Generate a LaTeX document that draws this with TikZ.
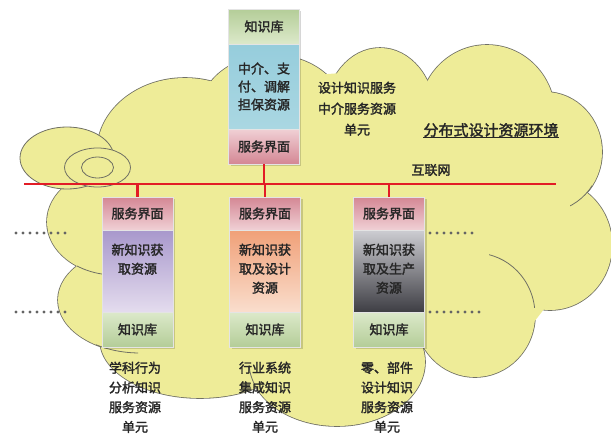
\documentclass[tikz,border=0pt]{standalone}
\usepackage{fontspec}
\setmainfont{Noto Sans CJK SC}[AutoFakeBold=2]
\usetikzlibrary{calc}
\definecolor{cloudfill}{RGB}{238,236,152}
\definecolor{cloudline}{RGB}{112,112,100}
\definecolor{netred}{RGB}{226,28,38}
\definecolor{txtc}{RGB}{38,38,38}
\definecolor{pinkA}{RGB}{212,135,148}
\definecolor{pinkB}{RGB}{240,208,213}
\definecolor{greenA}{RGB}{220,233,202}
\definecolor{greenB}{RGB}{180,205,152}
\definecolor{blueA}{RGB}{150,205,220}
\definecolor{blueM}{RGB}{198,230,236}
\definecolor{blueB}{RGB}{170,215,226}
\definecolor{purpA}{RGB}{168,152,204}
\definecolor{purpB}{RGB}{228,220,238}
\definecolor{orA}{RGB}{240,160,120}
\definecolor{orB}{RGB}{250,222,205}
\definecolor{grA}{RGB}{205,205,210}
\definecolor{grM}{RGB}{140,140,146}
\definecolor{grB}{RGB}{62,62,68}
\definecolor{dotc}{RGB}{100,100,100}
\definecolor{edgec}{RGB}{228,228,228}

\newcommand\cloudbumps[1]{%
  \foreach \cx/\cy/\rx/\ry in {185/152/88/74, 272/112/72/57, 380/115/55/67,
     487/115/68/70, 545/152/57/60, 550/245/62/65, 475/315/60/62,
     337/362/88/64, 200/340/100/58, 140/300/82/53, 115/222/68/53}
    {\path[#1] (\cx,\cy) ellipse [x radius=\rx, y radius=\ry];}%
}

\begin{document}
\begin{tikzpicture}[x=1pt,y=-1pt,
  txt/.style={font=\fontsize{13}{19}\selectfont\bfseries, text=txtc, align=center, inner sep=0pt},
  sect/.style={rectangle, inner sep=0pt, minimum width=71pt, draw=edgec, line width=0.5pt,
     font=\fontsize{13}{18}\selectfont\bfseries, text=txtc, align=center},
  svc/.style={sect, minimum height=33pt, top color=pinkA, bottom color=pinkB},
  svctop/.style={sect, minimum height=35pt, top color=pinkB, bottom color=pinkA},
  know/.style={sect, minimum height=35pt, top color=greenA, bottom color=greenB},
  knowtop/.style={sect, minimum height=35pt, top color=greenB, bottom color=greenA},
  bluesec/.style={sect, minimum height=85pt, top color=blueA, middle color=blueM, bottom color=blueB},
  purpsec/.style={sect, minimum height=82pt, top color=purpA, bottom color=purpB},
  orsec/.style={sect, minimum height=82pt, top color=orA, bottom color=orB},
  grsec/.style={sect, minimum height=82pt, top color=grA, middle color=grM, bottom color=grB},
  net/.style={draw=netred, line width=2.6pt},
  dots/.style={draw=dotc, line width=3.3pt, line cap=round, dash pattern=on 0pt off 7pt},
  inarc/.style={draw=cloudline, line width=0.8pt},
  shadowbox/.style={fill=black, opacity=0.16}
]
\useasboundingbox (0,0) rectangle (611,434);

% ---------- cloud ----------
\cloudbumps{draw=cloudline, line width=1.6pt}
\cloudbumps{fill=cloudfill}
\fill[cloudfill] (130,140) -- (250,80) -- (380,70) -- (430,95) -- (490,60) -- (560,120)
  -- (590,250) -- (520,340) -- (430,340) -- (340,410) -- (270,370) -- (200,385)
  -- (110,330) -- (60,230) -- cycle;
\begin{scope}\clip (77,250) rectangle (103,290);
  \path[inarc] (115,222) ellipse [x radius=68, y radius=53];\end{scope}
\begin{scope}\clip (96,340) rectangle (138,362);
  \path[inarc] (140,300) ellipse [x radius=82, y radius=53];\end{scope}
\begin{scope}\clip (240,365) rectangle (262,392);
  \path[inarc] (337,362) ellipse [x radius=88, y radius=64];\end{scope}
\begin{scope}\clip (489,240) rectangle (540,307);
  \path[inarc] (475,315) ellipse [x radius=60, y radius=62];\end{scope}
\begin{scope}\clip (570,185) rectangle (592,212);
  \path[inarc] (545,152) ellipse [x radius=57, y radius=60];\end{scope}
\path[inarc, fill=cloudfill] (67,158) ellipse [x radius=47, y radius=31];
\path[inarc, fill=cloudfill] (97.5,167.5) ellipse [x radius=33, y radius=19.5];
\path[inarc, fill=cloudfill] (97.5,167.5) ellipse [x radius=16, y radius=10.5];

% ---------- network ----------
\coordinate (netL) at (24,184);
\coordinate (netR) at (556,184);
\draw[net] (netL) -- (netR);

% ---------- shadows ----------
\fill[shadowbox] (230.5,10.5) rectangle (300.5,165.5);
\fill[shadowbox] (103.5,198.5) rectangle (174.5,348.5);
\fill[shadowbox] (231.5,198.5) rectangle (302.5,348.5);
\fill[shadowbox] (355.5,198.5) rectangle (426.5,348.5);

% ---------- top box ----------
\node[knowtop] (tk) at (264,26.5) {知识库};
\node[bluesec] (tb) at (264,86.5) {中介、支\\付、调解\\担保资源};
\node[svctop] (ts) at (264,146.5) {服务界面};
\draw[net] (ts.south) -- (ts.south |- netL);

% ---------- bottom boxes ----------
\node[svc] (s1) at (137.5,213.5) {服务界面};
\node[purpsec] (m1) at (137.5,271) {};
\node[know] (k1) at (137.5,329.5) {知识库};
\node[svc] (s2) at (265,213.5) {服务界面};
\node[orsec] (m2) at (265,271) {};
\node[know] (k2) at (265,329.5) {知识库};
\node[svc] (s3) at (389,213.5) {服务界面};
\node[grsec] (m3) at (389,271) {};
\node[know] (k3) at (389,329.5) {知识库};
\draw[net] (s1.north) -- (s1.north |- netL);
\draw[net] (s2.north) -- (s2.north |- netL);
\draw[net] (s3.north) -- (s3.north |- netL);

\node[txt, anchor=north] (m1t) at (137.5,243.5) {新知识获\\取资源};
\node[txt, anchor=north] (m2t) at (265,243.5) {新知识获\\取及设计\\资源};
\node[txt, anchor=north] (m3t) at (389,243.5) {新知识获\\取及生产\\资源};

% ---------- captions ----------
\node[txt, anchor=north, font=\fontsize{13}{19.7}\selectfont\bfseries] (c1) at (135,361.5) {学科行为\\分析知识\\服务资源\\单元};
\node[txt, anchor=north, font=\fontsize{13}{19.7}\selectfont\bfseries] (c2) at (265,361.5) {行业系统\\集成知识\\服务资源\\单元};
\node[txt, anchor=north, font=\fontsize{13}{19.7}\selectfont\bfseries] (c3) at (387,361.5) {零、部件\\设计知识\\服务资源\\单元};
\node[txt, anchor=north, font=\fontsize{13}{21}\selectfont\bfseries] (mid) at (357,81.5) {设计知识服务\\中介服务资源\\单元};
\node[txt, font=\fontsize{15}{18}\selectfont\bfseries] (env) at (491,130) {分布式设计资源环境};
\draw[txtc, line width=0.7pt] (env.south west) -- (env.south east);
\node[txt] (inet) at (431,170) {互联网};

% ---------- dotted continuations ----------
\coordinate (d1a) at (16,233);  \coordinate (d1b) at (65.2,233);
\coordinate (d2a) at (16,312);  \coordinate (d2b) at (65.2,312);
\coordinate (d3a) at (430,233); \coordinate (d3b) at (472.2,233);
\coordinate (d4a) at (430,312); \coordinate (d4b) at (479.2,312);
\draw[dots] (d1a) -- (d1b);
\draw[dots] (d2a) -- (d2b);
\draw[dots] (d3a) -- (d3b);
\draw[dots] (d4a) -- (d4b);
\end{tikzpicture}
\end{document}
